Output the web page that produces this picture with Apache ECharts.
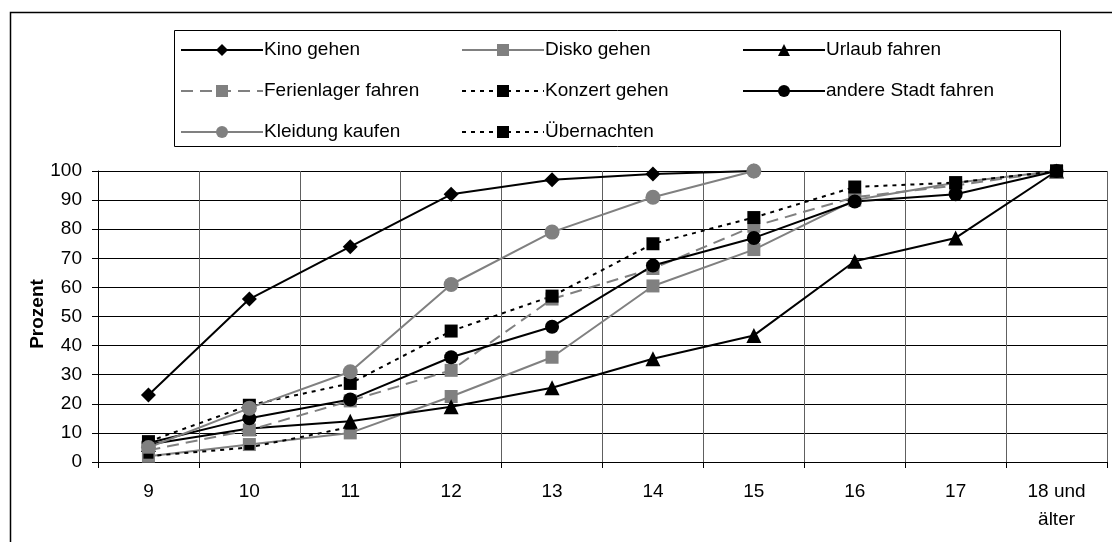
<!DOCTYPE html>
<html>
<head>
<meta charset="utf-8">
<script src="https://cdn.jsdelivr.net/npm/echarts@6/dist/echarts.min.js"></script>
<style>
html,body{margin:0;padding:0;background:#fff;}
#c{width:1112px;height:542px;}
</style>
</head>
<body>
<div id="c"></div>
<script>
var categories = ['9','10','11','12','13','14','15','16','17','18 und\nälter'];
var yTicks = [0,10,20,30,40,50,60,70,80,90,100];
var yTitle = 'Prozent';

var kino        = [23, 56, 74, 92, 97, 99, 100, null, null, null];
var disko       = [2, 6, 10, 22.5, 36, 60.5, 73, 90, 96, 100];
var urlaub      = [6, 11.5, 14, 19, 25.5, 35.5, 43.5, 69, 77, 100];
var ferienlager = [4, 11, 21, 31.5, 56, 66.5, 81, 91, 95, 100];
var konzert     = [7, 19.5, 27, 45, 57, 75, 84, 94.5, 96, 100];
var andereStadt = [6.5, 15, 21.5, 36, 46.5, 67.5, 77, 89.5, 92, 100];
var kleidung    = [5, 18.5, 31, 61, 79, 91, 100, null, null, null];
var uebernachten= [2, 5, 12, null, null, null, null, null, null, null];

var names = ['Kino gehen','Disko gehen','Urlaub fahren','Ferienlager fahren','Konzert gehen','andere Stadt fahren','Kleidung kaufen','Übernachten'];

var GRAY = '#808080';
var FONT = 'Liberation Sans, Arial, sans-serif';
var FS = 19;

function mk(name, data, color, lineType, symbol, size) {
  return {
    name: name, type: 'line', data: data,
    symbol: symbol, symbolSize: size,
    connectNulls: false,
    lineStyle: {color: color, width: 2, type: lineType},
    itemStyle: {color: color, borderWidth: 0},
    emphasis: {disabled: true},
    animation: false
  };
}

var series = [
  mk(names[0], kino, '#000', 'solid', 'diamond', 15),
  mk(names[1], disko, GRAY, 'solid', 'rect', 13),
  mk(names[2], urlaub, '#000', 'solid', 'triangle', 15),
  mk(names[3], ferienlager, GRAY, [12, 7], 'rect', 13),
  mk(names[4], konzert, '#000', [4, 5], 'rect', 13),
  mk(names[5], andereStadt, '#000', 'solid', 'circle', 14),
  mk(names[6], kleidung, GRAY, 'solid', 'circle', 15),
  mk(names[7], uebernachten, '#000', [4, 5], 'rect', [10, 5])
];

var legendCommon = {
  orient: 'vertical', top: 35, itemWidth: 82, itemHeight: 15, itemGap: 21,
  textStyle: {fontFamily: FONT, fontSize: FS, lineHeight: 20, color: '#000', padding: [0,0,0,-4]},
  selectedMode: false
};

var chart = echarts.init(document.getElementById('c'), null, {renderer: 'canvas'});
chart.setOption({
  backgroundColor: '#fff',
  animation: false,
  graphic: [
    {type: 'rect', shape: {x: 10.5, y: 12.5, width: 1110, height: 540}, style: {fill: 'none', stroke: '#000', lineWidth: 1.5}, silent: true, z: -10},
    {type: 'rect', shape: {x: 174.5, y: 30.5, width: 886, height: 116}, style: {fill: '#fff', stroke: '#000', lineWidth: 1}, silent: true, z: -5},
    {type: 'text', x: 38, y: 314, rotation: Math.PI / 2, silent: true,
     style: {text: yTitle, fontFamily: FONT, fontSize: FS, fontWeight: 'bold', fill: '#000', align: 'center', verticalAlign: 'middle'}}
  ],
  legend: [
    Object.assign({left: 175, data: [names[0], names[3], names[6]]}, legendCommon),
    Object.assign({left: 456, data: [names[1], names[4], names[7]]}, legendCommon),
    Object.assign({left: 737, data: [names[2], names[5]]}, legendCommon)
  ],
  grid: {left: 98, right: 5, top: 171, bottom: 80, containLabel: false},
  xAxis: {
    type: 'category', data: categories, boundaryGap: true,
    axisLine: {lineStyle: {color: '#000', width: 1}},
    axisTick: {show: true, inside: false, length: 6, lineStyle: {color: '#000'}},
    axisLabel: {fontFamily: FONT, fontSize: FS, color: '#000', margin: 16, lineHeight: 28, interval: 0},
    splitLine: {show: true, lineStyle: {color: '#606060', width: 1}}
  },
  yAxis: {
    type: 'value', min: 0, max: 100, interval: 10,
    axisLine: {show: true, lineStyle: {color: '#000', width: 1}},
    axisTick: {show: true, inside: false, length: 6, lineStyle: {color: '#000'}},
    axisLabel: {fontFamily: FONT, fontSize: FS, color: '#000', margin: 16},
    splitLine: {show: true, lineStyle: {color: '#000', width: 1}}
  },
  series: series
});
</script>
</body>
</html>
